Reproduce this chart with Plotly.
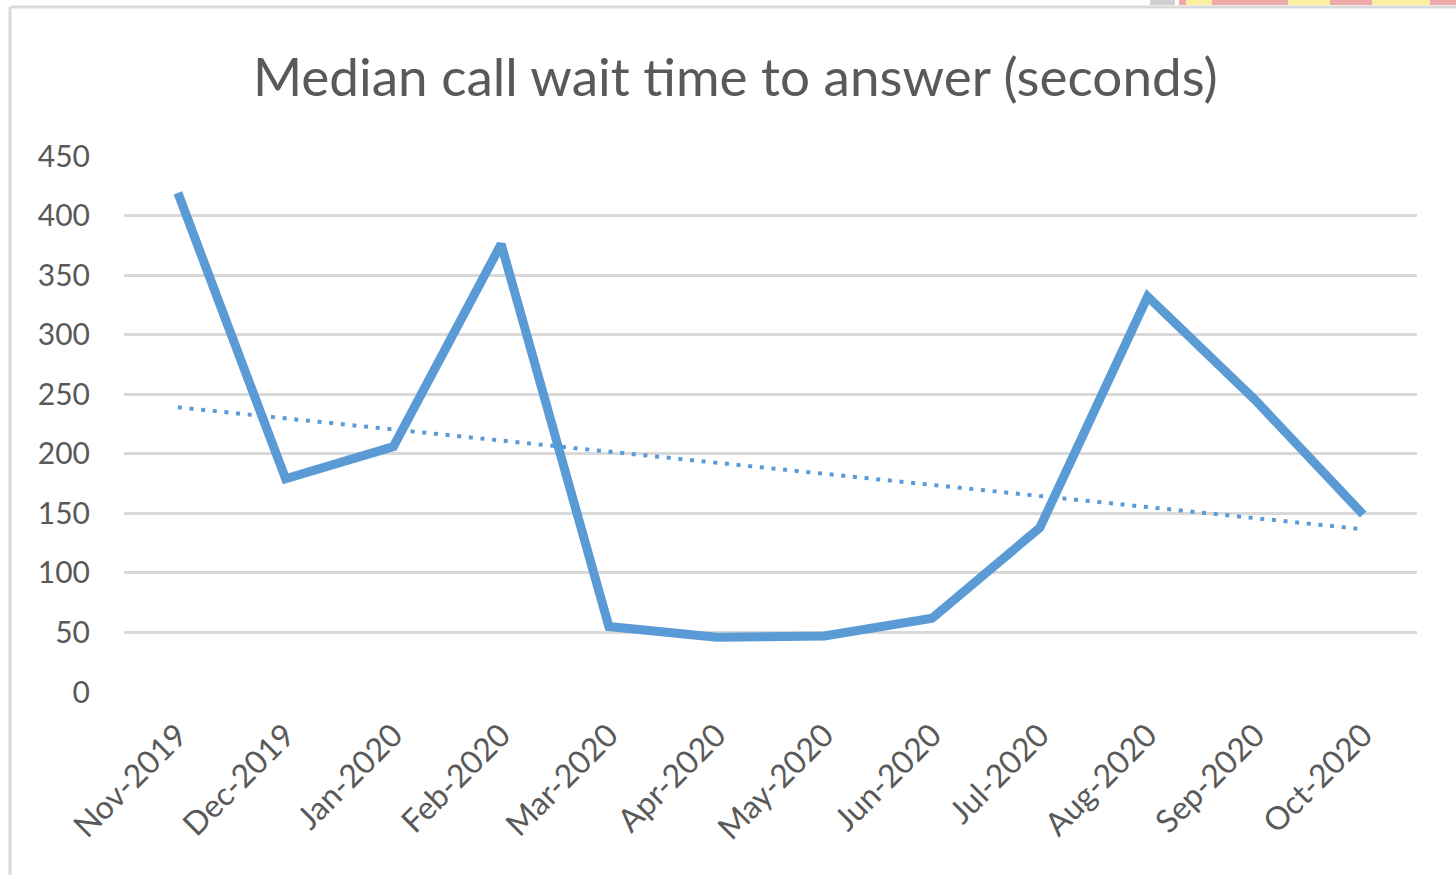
import numpy as np
import plotly.graph_objects as go

# Monthly median wait (seconds)
months = ['Nov-2019', 'Dec-2019', 'Jan-2020', 'Feb-2020', 'Mar-2020', 'Apr-2020',
          'May-2020', 'Jun-2020', 'Jul-2020', 'Aug-2020', 'Sep-2020', 'Oct-2020']
wait_secs = [419, 179, 206, 376, 55, 46, 47, 62, 138, 332, 245, 149]
y_ticks = [0, 50, 100, 150, 200, 250, 300, 350, 400, 450]

# linear trendline like Excel's
idx = np.arange(1, len(months) + 1)
slope, icpt = np.polyfit(idx, wait_secs, 1)
trend = slope * idx + icpt

BLUE = '#5b9bd5'
GREY = '#595959'
FONT = 'Lato'

fig = go.Figure()
fig.add_trace(go.Scatter(
    x=months, y=wait_secs, mode='lines',
    line=dict(color=BLUE, width=9),
    showlegend=False, hoverinfo='skip'
))
fig.add_trace(go.Scatter(
    x=months, y=trend, mode='lines',
    line=dict(color=BLUE, width=4, dash='4px,7.7px'),
    showlegend=False, hoverinfo='skip'
))

# pixel -> paper helpers (plot area is 124..1417 x 156..692)
def px(v):
    return (v - 124) / 1293

def py(v):
    return (692 - v) / 536

# chart frame (left + top edges visible)
fig.add_shape(type='line', xref='paper', yref='paper', x0=px(10), x1=px(10), y0=py(7), y1=py(900),
              line=dict(color='#d9d9d9', width=3))
fig.add_shape(type='line', xref='paper', yref='paper', x0=px(10), x1=px(1470), y0=py(7), y1=py(7),
              line=dict(color='#d9d9d9', width=3))

# sliver of a neighbouring picture at the top right edge
fig.add_shape(type='rect', xref='paper', yref='paper', x0=px(1150), x1=px(1175), y0=py(5), y1=py(-2),
              line_width=0, fillcolor='#d0d0d0')
fig.add_shape(type='rect', xref='paper', yref='paper', x0=px(1179), x1=px(1470), y0=py(5), y1=py(-2),
              line_width=0, fillcolor='#eeaaaa')
for a, b in [(1186, 1212), (1288, 1330), (1372, 1430)]:
    fig.add_shape(type='rect', xref='paper', yref='paper', x0=px(a), x1=px(b), y0=py(5), y1=py(-2),
                  line_width=0, fillcolor='#faf0a0')

fig.update_layout(
    width=1456, height=875,
    margin=dict(l=124, r=39, t=156, b=183),
    paper_bgcolor='white', plot_bgcolor='white',
    font=dict(family=FONT, color=GREY),
    title=dict(text='Median call wait time to answer (seconds)',
               x=0.505, xref='container', y=0.912, yanchor='middle',
               font=dict(family=FONT, size=53, color=GREY)),
)
fig.update_xaxes(
    type='category', range=[-0.5, len(months) - 0.5],
    tickangle=-45, tickfont=dict(size=32, color=GREY),
    showgrid=False, zeroline=False, showline=False, ticks='',
    ticklabelstandoff=17,
)
fig.update_yaxes(
    range=[0, 450], tickvals=y_ticks,
    tickfont=dict(size=30, color=GREY),
    showgrid=True, gridcolor='#d9d9d9', gridwidth=2.5,
    zeroline=False, showline=False, ticks='',
    ticklabelstandoff=33,
)

# page has an 8px body margin by default; drop it so the figure sits at 0,0
fig.write_html('out.html', config={'displayModeBar': False},
               post_script="document.body.style.margin='0';")
